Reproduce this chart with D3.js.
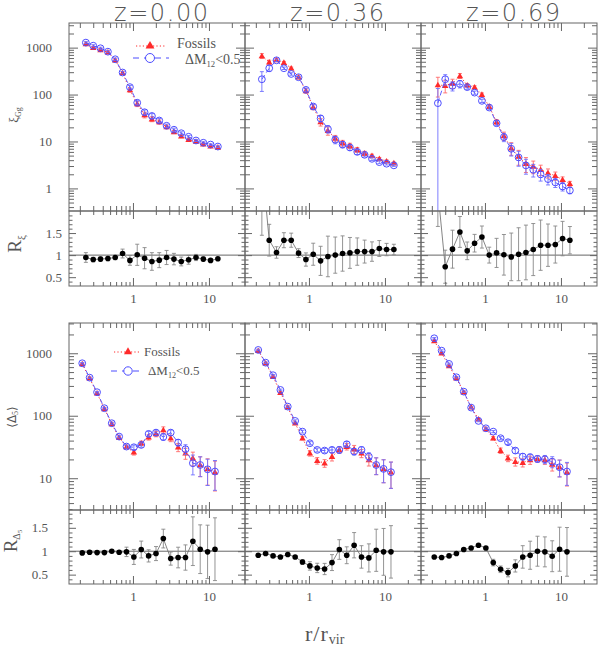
<!DOCTYPE html>
<html lang="en">
<head>
<meta charset="UTF-8">
<title>Fossil groups: xi_Gg and Delta_5 profiles</title>
<script src="https://d3js.org/d3.v7.min.js"></script>
<style>
  body { margin: 0; background: #fff; }
  text { font-family: "Liberation Serif", "DejaVu Serif", serif; fill: #555; }
</style>
</head>
<body>
<div id="chart"></div>
<script>
// ---- data ----
// radial bins (r / r_vir), upper block and lower block
const rTop = [0.240,0.300,0.374,0.468,0.584,0.730,0.912,1.138,1.422,1.775,2.218,2.77,3.46,4.32,5.40,6.75,8.43,10.5,13.1];
const rBot = [0.215,0.269,0.337,0.421,0.526,0.658,0.822,1.028,1.285,1.607,2.01,2.51,3.14,3.93,4.91,6.14,7.67,9.59,12.0];

const zLabels = ["z=0.00", "z=0.36", "z=0.69"];

// xi_Gg : fossils / dM12<0.5, with fractional errors
const xiFos00 = [1200,1000,900,800,540,290,125,63,37,30,26,20.5,16,13,11,10,8.8,8,7.5];
const xiDM00  = [1280,1100,970,820,565,295,144,67,42,35,28,21.6,17.8,15,12.6,10.5,9.4,8.6,7.8];
const xiFosErr00 = [0.05,0.06,0.06,0.05,0.06,0.06,0.1,0.12,0.14,0.12,0.1,0.08,0.08,0.07,0.06,0.05,0.05,0.04,0.04];
const xiDMErr00  = [0.05,0.05,0.05,0.05,0.06,0.06,0.08,0.1,0.12,0.12,0.1,0.08,0.08,0.07,0.06,0.05,0.05,0.04,0.04];

const xiFos36 = [666,490,547,480,364,234,120,54,26,17,11.6,9.25,8.1,6.66,5.6,4.96,4.27,3.8,3.47];
const xiDM36  = [212,364,537,364,275,234,126,55.6,31,18.4,10.9,8.6,7.45,6.0,5.2,4.27,3.63,3.36,3.1];
const xiFosErr36 = [0.12,0.1,0.06,0.06,0.06,0.05,0.1,0.12,0.18,0.2,0.16,0.14,0.13,0.12,0.1,0.08,0.07,0.06,0.05];
const xiDMErr36  = [0.45,0.15,0.06,0.06,0.06,0.05,0.09,0.12,0.16,0.18,0.18,0.15,0.14,0.12,0.1,0.08,0.07,0.06,0.05];

const xiFos69 = [161,155,174,250,158,144,100,55.6,26.2,13.2,7.24,4.79,3.36,2.94,2.5,2.13,1.86,1.53,1.26];
const xiDM69  = [65.6,212,153,169,144,110,73.5,52.9,24.5,12.4,7.0,4.57,3.09,2.5,1.99,1.58,1.34,1.1,0.906];
const xiFosErr69 = [0.45,0.3,0.22,0.12,0.08,0.07,0.08,0.08,0.12,0.2,0.3,0.35,0.35,0.3,0.25,0.22,0.2,0.15,0.12];
const xiDMErr69  = [1.05,0.25,0.22,0.18,0.1,0.08,0.08,0.08,0.12,0.2,0.3,0.35,0.35,0.3,0.28,0.25,0.22,0.2,0.15];

// R_xi ratio and its errors
const rXi00 = [0.946,0.90,0.91,0.924,0.946,1.036,0.88,1.007,0.93,0.856,0.886,0.946,0.91,0.856,0.894,0.946,0.91,0.88,0.917];
const rXiErr00 = [0.11,0.05,0.05,0.05,0.05,0.1,0.11,0.24,0.24,0.2,0.17,0.16,0.13,0.1,0.1,0.07,0.05,0.03,0.03];
const rXi36 = [3.1,1.338,1.06,1.338,1.338,1.045,0.90,1.02,0.87,0.97,1.0,1.036,1.05,1.08,1.08,1.08,1.15,1.126,1.126];
const rXiErr36 = [1.65,0.36,0.13,0.17,0.16,0.1,0.15,0.25,0.33,0.46,0.41,0.4,0.35,0.31,0.26,0.22,0.18,0.14,0.12];
const rXi69 = [2.45,0.737,1.135,1.525,1.097,1.27,1.41,1.0,1.05,1.007,0.96,1.02,1.06,1.126,1.225,1.225,1.24,1.375,1.338];
const rXiErr69 = [0.8,0.375,0.43,0.35,0.2,0.2,0.25,0.18,0.33,0.46,0.54,0.6,0.62,0.59,0.57,0.48,0.42,0.39,0.31];

// <Delta_5> : fossils / dM12<0.5
const dFos00 = [675,398,229,128.6,74,44.7,31.6,26.1,36.3,45.3,51.2,59.3,43.7,31.3,25.1,20.9,16.3,14.1,12.5];
const dDM00  = [692,407,238,132,75.9,46.4,32.1,31.3,34.1,51.2,53.7,45.8,53.7,37.2,29.1,17.4,16.3,13.9,12.8];
const dFosErr00 = [0.03,0.03,0.03,0.03,0.04,0.05,0.06,0.1,0.08,0.1,0.1,0.12,0.12,0.15,0.2,0.25,0.35,0.45,0.5];
const dDMErr00  = [0.03,0.03,0.03,0.03,0.04,0.05,0.06,0.08,0.08,0.1,0.1,0.12,0.1,0.12,0.18,0.35,0.35,0.45,0.5];

const dFos36 = [1100,692,423,234,137,75.9,43.7,25.1,19.1,17.4,22.2,28.4,32.1,29.1,25.1,19.6,16.3,14.1,12.5];
const dDM36  = [1130,707,445,259,140,82.6,55.7,36.3,28.4,27.7,28.4,28.4,35,26.7,28.4,22.2,16.3,14.1,12.5];
const dFosErr36 = [0.03,0.03,0.03,0.03,0.04,0.04,0.06,0.1,0.12,0.14,0.15,0.12,0.12,0.15,0.15,0.2,0.3,0.4,0.45];
const dDMErr36  = [0.03,0.03,0.03,0.03,0.03,0.04,0.05,0.06,0.07,0.08,0.1,0.12,0.1,0.12,0.12,0.15,0.3,0.4,0.45];

const dFos69 = [1574,1000,627,398,238,137,88,61.5,43.7,27.7,20.9,18.4,17.8,19.6,20.4,19.6,16.7,15,12.5];
const dDM69  = [1738,1100,675,413,243,135,82.6,63,55.7,43.7,37.7,27.7,22.2,21.7,20.4,20.1,18.4,15,12.8];
const dFosErr69 = [0.03,0.03,0.03,0.03,0.03,0.03,0.04,0.05,0.06,0.1,0.12,0.15,0.15,0.15,0.12,0.15,0.22,0.3,0.4];
const dDMErr69  = [0.03,0.03,0.03,0.03,0.03,0.03,0.03,0.04,0.04,0.06,0.08,0.1,0.12,0.12,0.12,0.15,0.2,0.3,0.4];

// R_Delta5 ratio and its errors
const rD00 = [0.964,0.979,0.97,0.97,1.0,0.979,0.986,0.878,1.036,0.9,0.95,1.27,0.843,0.865,0.865,1.214,1.043,0.986,1.043];
const rDErr00 = [0.03,0.03,0.03,0.03,0.03,0.03,0.1,0.16,0.18,0.13,0.15,0.2,0.14,0.22,0.27,0.52,0.52,0.57,0.67];
const rD36 = [0.914,0.95,0.9,0.878,0.93,0.878,0.771,0.686,0.643,0.62,0.757,1.036,0.914,1.128,0.878,0.857,1.02,0.986,0.986];
const rDErr36 = [0.02,0.02,0.02,0.02,0.02,0.03,0.05,0.09,0.1,0.12,0.17,0.21,0.18,0.27,0.24,0.3,0.45,0.5,0.56];
const rD69 = [0.878,0.865,0.9,0.95,1.036,1.07,1.128,1.07,0.757,0.614,0.543,0.686,0.878,0.914,1.0,0.986,0.893,1.043,0.986];
const rDErr69 = [0.02,0.02,0.02,0.02,0.02,0.02,0.02,0.03,0.07,0.07,0.09,0.13,0.24,0.3,0.32,0.32,0.33,0.47,0.52];

// ---- layout ----
const ink = "#666";
const red = "#ff2a2a", redBar = "#ff6a6a";
const blue = "#4d4dff", blueBar = "#6f6fff";
const svg = d3.select("#chart").append("svg").attr("width", 600).attr("height", 650);

const colLeft = [69, 245, 421], colW = 176;
const xDomain = [0.144, 29.8];
const xMajor = [1, 10];
const xMinor = [0.2,0.3,0.4,0.5,0.6,0.7,0.8,0.9,2,3,4,5,6,7,8,9,20];

const blocks = [
  {top: 23, mid: 211, bot: 286, yDom: [0.33, 3350], yMajor: [1,10,100,1000], rDom: [0.3, 2.0], mainPad: 17, ratPad: 7, rs: rTop},
  {top: 323, mid: 510, bot: 584, yDom: [3.1, 3050], yMajor: [10,100,1000], rDom: [0.3, 1.88], mainPad: 17, ratPad: 21, rs: rBot}
];
const rMajor = [0.5, 1, 1.5];
const rMinor = d3.range(4, 20).map(d => d / 10).filter(v => rMajor.indexOf(v) < 0);

function logMinor(dom) {
  const out = [];
  for (let e = -1; e <= 3; e++)
    for (let m = 2; m <= 9; m++) {
      const v = m * Math.pow(10, e);
      if (v > dom[0] && v < dom[1]) out.push(v);
    }
  return out;
}

let clipN = 0;
function panel(x0, y0, y1) {
  const g = svg.append("g");
  const id = "clip" + (clipN++);
  svg.append("clipPath").attr("id", id).append("rect")
    .attr("x", x0).attr("y", y0).attr("width", colW).attr("height", y1 - y0);
  const inner = g.append("g").attr("clip-path", "url(#" + id + ")");
  return {g, inner};
}

// inward ticks on all four sides
function inTicks(g, x, y, yMaj, yMin, lens) {
  const [x0, x1] = x.range(), [yb, yt] = y.range();
  const add = (axis, tr) => g.append("g").attr("transform", tr).attr("color", ink)
    .call(axis.tickFormat(""))
    .call(a => { a.select(".domain").remove(); a.selectAll("text").remove(); });
  [[xMajor, lens[0]], [xMinor, lens[1]]].forEach(([v, L]) => {
    add(d3.axisBottom(x).tickValues(v).tickSize(-L), `translate(0,${yb})`);
    add(d3.axisTop(x).tickValues(v).tickSize(-L), `translate(0,${yt})`);
  });
  [[yMaj, lens[2]], [yMin, lens[3]]].forEach(([v, L]) => {
    add(d3.axisLeft(y).tickValues(v).tickSize(-L), `translate(${x0},0)`);
    add(d3.axisRight(y).tickValues(v).tickSize(-L), `translate(${x1},0)`);
  });
}

function labels(g, axis, tr, pad, size) {
  g.append("g").attr("transform", tr)
    .call(axis.tickSize(0).tickPadding(pad).tickFormat(d => String(d)))
    .call(a => { a.select(".domain").remove(); a.selectAll("line").remove(); })
    .selectAll("text").style("font-family", "'Liberation Serif', serif")
    .style("font-size", size + "px").attr("fill", "#555");
}

function frame(g, x0, y0, y1) {
  g.append("rect").attr("x", x0).attr("y", y0).attr("width", colW).attr("height", y1 - y0)
    .attr("fill", "none").attr("stroke", ink).attr("stroke-width", 1);
}

function errBars(g, pts, x, y, color, lo) {
  g.selectAll(null).data(pts).enter().append("path")
    .attr("d", d => {
      const px = x(d.r), a = y(Math.max(d.lo, lo)), b = y(d.hi);
      return `M${px},${a}V${b}M${px - 2},${a}H${px + 2}M${px - 2},${b}H${px + 2}`;
    })
    .attr("stroke", color).attr("stroke-width", 0.9).attr("fill", "none");
}

function drawMain(col, blk, fos, fosErr, dm, dmErr) {
  const x0 = colLeft[col];
  const x = d3.scaleLog().domain(xDomain).range([x0, x0 + colW]);
  const y = d3.scaleLog().domain(blk.yDom).range([blk.mid, blk.top]);
  const {g, inner} = panel(x0, blk.top, blk.mid);
  const lo = blk.yDom[0] * 0.01;
  const F = blk.rs.map((r, i) => ({r, v: fos[i], lo: fos[i] * (1 - fosErr[i]), hi: fos[i] * (1 + fosErr[i])}));
  const D = blk.rs.map((r, i) => ({r, v: dm[i], lo: dm[i] * (1 - dmErr[i]), hi: dm[i] * (1 + dmErr[i])}));
  const line = d3.line().x(d => x(d.r)).y(d => y(d.v));

  errBars(inner, F, x, y, redBar, lo);
  inner.append("path").datum(F).attr("d", line).attr("fill", "none")
    .attr("stroke", red).attr("stroke-width", 1).attr("stroke-dasharray", "1.2,2.2");
  inner.selectAll(null).data(F).enter().append("path")
    .attr("d", d3.symbol(d3.symbolTriangle, 18))
    .attr("transform", d => `translate(${x(d.r)},${y(d.v) + 0.5})`).attr("fill", red);

  errBars(inner, D, x, y, blueBar, lo);
  inner.append("path").datum(D).attr("d", line).attr("fill", "none")
    .attr("stroke", blue).attr("stroke-width", 0.9).attr("stroke-dasharray", "5,3");
  inner.selectAll(null).data(D).enter().append("circle")
    .attr("cx", d => x(d.r)).attr("cy", d => y(d.v)).attr("r", 3.4)
    .attr("fill", "none").attr("stroke", blue).attr("stroke-width", 1);

  frame(g, x0, blk.top, blk.mid);
  inTicks(g, x, y, blk.yMajor, logMinor(blk.yDom), [8, 5, 9, 5]);
  if (col === 0) labels(g, d3.axisLeft(y).tickValues(blk.yMajor), `translate(${x0},0)`, blk.mainPad, 13);
  return {x, y};
}

function drawRatio(col, blk, vals, errs) {
  const x0 = colLeft[col];
  const x = d3.scaleLog().domain(xDomain).range([x0, x0 + colW]);
  const y = d3.scaleLinear().domain(blk.rDom).range([blk.bot, blk.mid]);
  const {g, inner} = panel(x0, blk.mid, blk.bot);
  const P = blk.rs.map((r, i) => ({r, v: vals[i], lo: vals[i] - errs[i], hi: vals[i] + errs[i]}));

  inner.append("line").attr("x1", x0).attr("x2", x0 + colW).attr("y1", y(1)).attr("y2", y(1))
    .attr("stroke", ink).attr("stroke-width", 1);
  errBars(inner, P, x, y, "#888", -10);
  inner.append("path").datum(P).attr("d", d3.line().x(d => x(d.r)).y(d => y(d.v)))
    .attr("fill", "none").attr("stroke", "#777").attr("stroke-width", 0.9);
  inner.selectAll(null).data(P).enter().append("circle")
    .attr("cx", d => x(d.r)).attr("cy", d => y(d.v)).attr("r", 2.8).attr("fill", "#000");

  frame(g, x0, blk.mid, blk.bot);
  inTicks(g, x, y, rMajor, rMinor, [8, 4, 7, 3.5]);
  labels(g, d3.axisBottom(x).tickValues(xMajor), `translate(0,${blk.bot})`, 8, 13);
  if (col === 0) labels(g, d3.axisLeft(y).tickValues(rMajor), `translate(${x0},0)`, blk.ratPad, 13);
}

// ---- panels ----
drawMain(0, blocks[0], xiFos00, xiFosErr00, xiDM00, xiDMErr00);
drawMain(1, blocks[0], xiFos36, xiFosErr36, xiDM36, xiDMErr36);
drawMain(2, blocks[0], xiFos69, xiFosErr69, xiDM69, xiDMErr69);
drawRatio(0, blocks[0], rXi00, rXiErr00);
drawRatio(1, blocks[0], rXi36, rXiErr36);
drawRatio(2, blocks[0], rXi69, rXiErr69);

drawMain(0, blocks[1], dFos00, dFosErr00, dDM00, dDMErr00);
drawMain(1, blocks[1], dFos36, dFosErr36, dDM36, dDMErr36);
drawMain(2, blocks[1], dFos69, dFosErr69, dDM69, dDMErr69);
drawRatio(0, blocks[1], rD00, rDErr00);
drawRatio(1, blocks[1], rD36, rDErr36);
drawRatio(2, blocks[1], rD69, rDErr69);

// ---- titles ----
zLabels.forEach((t, i) => {
  svg.append("text").attr("x", colLeft[i] + colW / 2 + 4).attr("y", 21)
    .attr("text-anchor", "middle").attr("textLength", 94).attr("lengthAdjust", "spacing")
    .style("font-family", "'DejaVu Sans', sans-serif").style("font-weight", 200)
    .style("font-size", "24px").attr("fill", "#666").text(t);
});

// ---- legends ----
function legend(xc, yF, yD, lx, size, tri, cr, xTextF, xTextD, tyF, tyD) {
  const g = svg.append("g");
  g.append("line").attr("x1", lx[0]).attr("x2", lx[1]).attr("y1", yF).attr("y2", yF)
    .attr("stroke", red).attr("stroke-dasharray", "1.2,2.2");
  g.append("path").attr("d", d3.symbol(d3.symbolTriangle, tri)).attr("fill", red)
    .attr("transform", `translate(${xc},${yF})`);
  g.append("text").attr("x", xTextF).attr("y", tyF).attr("fill", "#ff4a4a")
    .style("font-size", size + "px").text("Fossils");
  g.append("line").attr("x1", lx[0] - 3).attr("x2", lx[1] + 3).attr("y1", yD).attr("y2", yD)
    .attr("stroke", blue).attr("stroke-dasharray", "6,5");
  g.append("circle").attr("cx", xc).attr("cy", yD).attr("r", cr).attr("fill", "#fff")
    .attr("stroke", blue).attr("stroke-width", 1);
  const t = g.append("text").attr("x", xTextD).attr("y", tyD).attr("fill", blue)
    .style("font-size", size + "px");
  t.append("tspan").text("ΔM");
  t.append("tspan").attr("dy", size * 0.25).style("font-size", (size * 0.62) + "px").text("12");
  t.append("tspan").attr("dy", -size * 0.25).text("<0.5");
}
legend(150, 46, 58, [136, 166], 14, 34, 4.5, 177, 185, 48, 63.5);
legend(128, 352, 371, [114, 140], 13, 28, 4.2, 144, 148, 356, 375);

// ---- axis titles ----
function vLabel(x, y, build) {
  const t = svg.append("text").attr("transform", `translate(${x},${y}) rotate(-90)`)
    .attr("text-anchor", "middle");
  build(t);
}
vLabel(18, 115, t => {
  t.append("tspan").style("font-size", "13px").text("ξ");
  t.append("tspan").attr("dy", 3).style("font-size", "8px").text("Gg");
});
vLabel(21, 244, t => {
  t.append("tspan").style("font-size", "19px").text("R");
  t.append("tspan").attr("dy", 4).style("font-size", "11px").text("ξ");
});
vLabel(16, 417, t => {
  t.append("tspan").style("font-size", "12px").style("font-family", "'DejaVu Sans', sans-serif").text("⟨Δ");
  t.append("tspan").attr("dy", 2).style("font-size", "8px").text("5");
  t.append("tspan").attr("dy", -2).style("font-size", "12px").style("font-family", "'DejaVu Sans', sans-serif").text("⟩");
});
vLabel(17, 541, t => {
  t.append("tspan").style("font-size", "19px").text("R");
  t.append("tspan").attr("dy", 3).style("font-size", "10px").text("Δ");
  t.append("tspan").attr("dy", 2).style("font-size", "7px").text("5");
});

const xl = svg.append("text").attr("x", 305).attr("y", 641).style("font-size", "22px");
xl.append("tspan").style("letter-spacing", "1px").text("r/r");
xl.append("tspan").attr("dy", 3).style("font-size", "14px").text("vir");
</script>
</body>
</html>
